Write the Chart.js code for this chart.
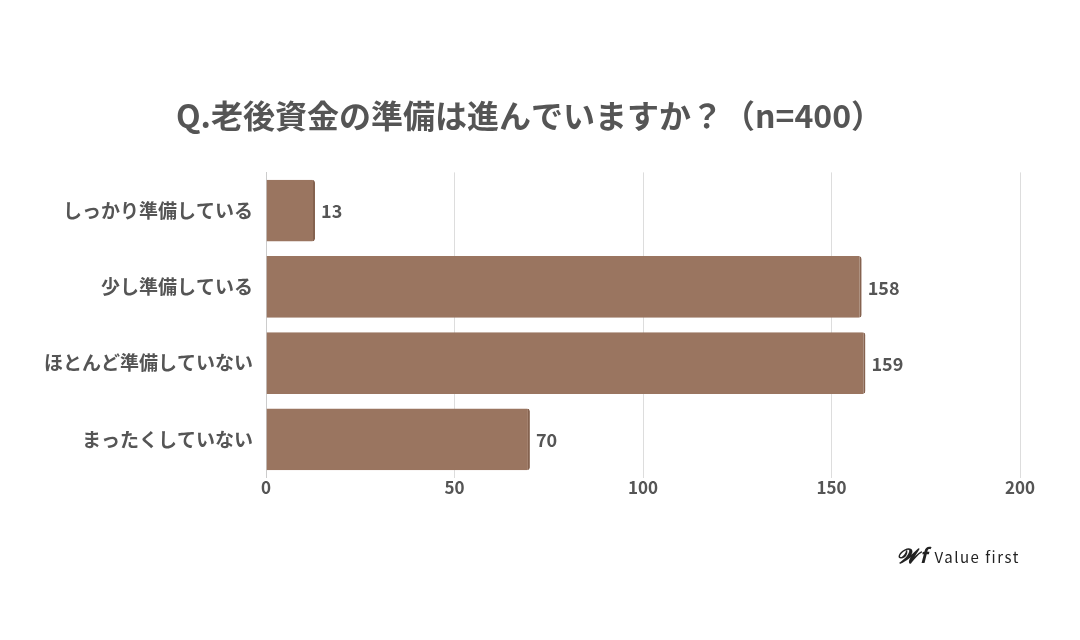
<!DOCTYPE html>
<html><head><meta charset="utf-8">
<script src="https://cdn.jsdelivr.net/npm/chart.js@4"></script>
<style>html,body{margin:0;background:#fff}#w{position:relative;width:1080px;height:640px}
#logo{position:absolute;left:897px;top:540px;font:15px "Noto Sans CJK JP",sans-serif;color:#222;letter-spacing:1.5px}</style>
</head><body><div id="w"><canvas id="c" width="1080" height="640"></canvas>
<div id="logo"><span style="font-style:italic;font-weight:bold;font-size:20px;margin-right:6px">𝓦f</span>Value first</div></div>
<script>
const categories=["しっかり準備している","少し準備している","ほとんど準備していない","まったくしていない"];
const values=[13,158,159,70];
const xTicks=[0,50,100,150,200];
const font="'Noto Sans CJK JP','Noto Sans',sans-serif";
const labelPlugin={id:'lbl',afterDatasetsDraw(ch){const ctx=ch.ctx;ctx.save();ctx.font="bold 18px "+font;ctx.fillStyle="#555";ctx.textBaseline="middle";
ch.getDatasetMeta(0).data.forEach((b,i)=>{ctx.fillText(values[i],b.x+6,b.y+1);});ctx.restore();}};
new Chart(document.getElementById('c'),{type:'bar',
data:{labels:categories,datasets:[{data:values,backgroundColor:'#9a7560',borderColor:'#85624f',borderWidth:{right:2,top:0,bottom:0,left:0},borderRadius:3,borderSkipped:'start',barPercentage:0.81,categoryPercentage:1}]},
options:{indexAxis:'y',responsive:false,animation:false,
layout:{padding:{left:39,right:60,top:0,bottom:142}},
plugins:{legend:{display:false},tooltip:{enabled:false},
title:{display:true,text:'Q.老後資金の準備は進んでいますか？（n=400）',color:'#555',font:{family:font,size:32,weight:'bold'},padding:{top:97,bottom:37}}},
scales:{x:{min:0,max:200,afterBuildTicks(a){a.ticks=xTicks.map(v=>({value:v}));},grid:{color:'#ddd',drawTicks:false},border:{display:false},
ticks:{color:'#555',font:{family:font,size:17,weight:'bold'},padding:0}},
y:{grid:{display:false},border:{color:'#ccc'},ticks:{color:'#555',font:{family:font,size:19,weight:'bold'},padding:5}}}},
plugins:[labelPlugin]});
</script></body></html>
